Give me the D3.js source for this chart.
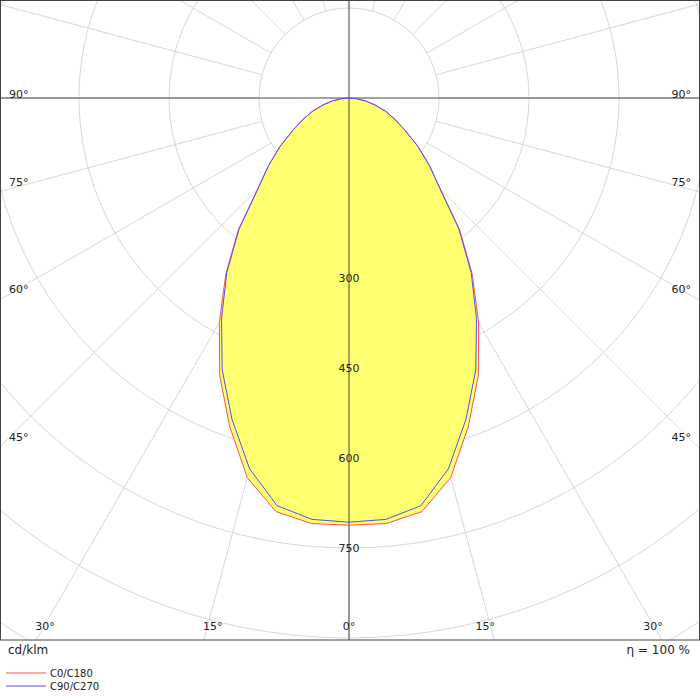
<!DOCTYPE html>
<html><head><meta charset="utf-8">
<script src="https://cdn.jsdelivr.net/npm/d3@7"></script>
<style>body{margin:0;background:#fff}text{font-family:"DejaVu Sans",sans-serif;font-size:11px;fill:#222}</style>
</head><body><svg width="700" height="700"></svg>
<script>
const angles = [0,5,10,15,20,25,30,35,40,45,50,55,60,65,70,75,80,85,90];
const c0c180 = [712,712,700,655,582,510,432,358,287,216,175,140,108,85,65,45,28,12,0];
const c90c270 = [707,705,690,640,570,500,425,355,285,215,175,140,108,85,65,45,28,12,0];
const ringValues = [150,300,450,600,750,900,1050];
const ringLabels = [300,450,600,750];
const sideAngles = [90,75,60,45];
const bottomAngles = [30,15,0];

const svg = d3.select('svg');
const W = 700, H = 640, cx = 349, cy = 98;
const r = d3.scaleLinear().domain([0,750]).range([0,450]);

svg.append('defs').append('clipPath').attr('id','clip')
  .append('rect').attr('width',W).attr('height',H);
const g = svg.append('g').attr('clip-path','url(#clip)');

// point for angle measured from down direction
const pt = (a, v) => {
  const t = a * Math.PI / 180;
  return [cx + r(v) * Math.sin(t), cy + r(v) * Math.cos(t)];
};

g.selectAll('.ring').data(ringValues).enter().append('circle')
  .attr('cx',cx).attr('cy',cy).attr('r',d => r(d))
  .attr('fill','none').attr('stroke','#d8d8d8');

d3.range(0,360,15).forEach(a => {
  const p0 = pt(a,150), p1 = pt(a,2000);
  g.append('line').attr('x1',p0[0]).attr('y1',p0[1]).attr('x2',p1[0]).attr('y2',p1[1])
    .attr('stroke','#d8d8d8');
});

const fullCurve = vals => {
  const pts = angles.map((a,i) => pt(a, vals[i]));
  const mirror = angles.slice().reverse().map((a,i) => pt(-a, vals[angles.length-1-i]));
  return pts.concat(mirror);
};
const line = d3.line().curve(d3.curveLinearClosed);

g.append('path').attr('d', line(fullCurve(c0c180))).attr('fill','#ffff70').attr('stroke','none');
g.append('path').attr('d', line(fullCurve(c90c270))).attr('fill','#ffff70').attr('stroke','none');

// axes
g.append('line').attr('x1',cx).attr('x2',cx).attr('y1',0).attr('y2',H).attr('stroke','#444');
g.append('line').attr('x1',0).attr('x2',W).attr('y1',cy).attr('y2',cy).attr('stroke','#444');

g.append('path').attr('d', line(fullCurve(c0c180))).attr('fill','none').attr('stroke','#ff5050');
g.append('path').attr('d', line(fullCurve(c90c270))).attr('fill','none').attr('stroke','#5050ff');

ringLabels.forEach(v => {
  svg.append('text').attr('x',cx).attr('y',cy + r(v) + 4).attr('text-anchor','middle').text(v);
});

sideAngles.forEach(a => {
  const t = a * Math.PI / 180;
  const y = a === 90 ? cy - 0 : cy + cx / Math.tan(t) - 6;
  svg.append('text').attr('x',9).attr('y',y).text(a + '°');
  svg.append('text').attr('x',691).attr('y',y).attr('text-anchor','end').text(a + '°');
});
bottomAngles.forEach(a => {
  const dx = (H - cy) * Math.tan(a * Math.PI / 180);
  svg.append('text').attr('x',cx - dx - (a ? -9 : 0)).attr('y',630).attr('text-anchor','middle').text(a + '°');
  if (a) svg.append('text').attr('x',cx + dx - 9).attr('y',630).attr('text-anchor','middle').text(a + '°');
});

svg.append('rect').attr('x',0.5).attr('y',0.5).attr('width',W-1).attr('height',H-0.5)
  .attr('fill','none').attr('stroke','#444');
svg.append('text').attr('x',8).attr('y',654).style('font-size','12px').text('cd/klm');
svg.append('text').attr('x',690).attr('y',654).attr('text-anchor','end').style('font-size','12px').text('η = 100 %');

[['C0/C180','#ff5050'],['C90/C270','#5050ff']].forEach((d,i) => {
  const y = 673 + i * 13;
  svg.append('line').attr('x1',6).attr('x2',46).attr('y1',y).attr('y2',y).attr('stroke',d[1]);
  svg.append('text').attr('x',50).attr('y',y + 4).style('font-size','10px').text(d[0]);
});
</script></body></html>
